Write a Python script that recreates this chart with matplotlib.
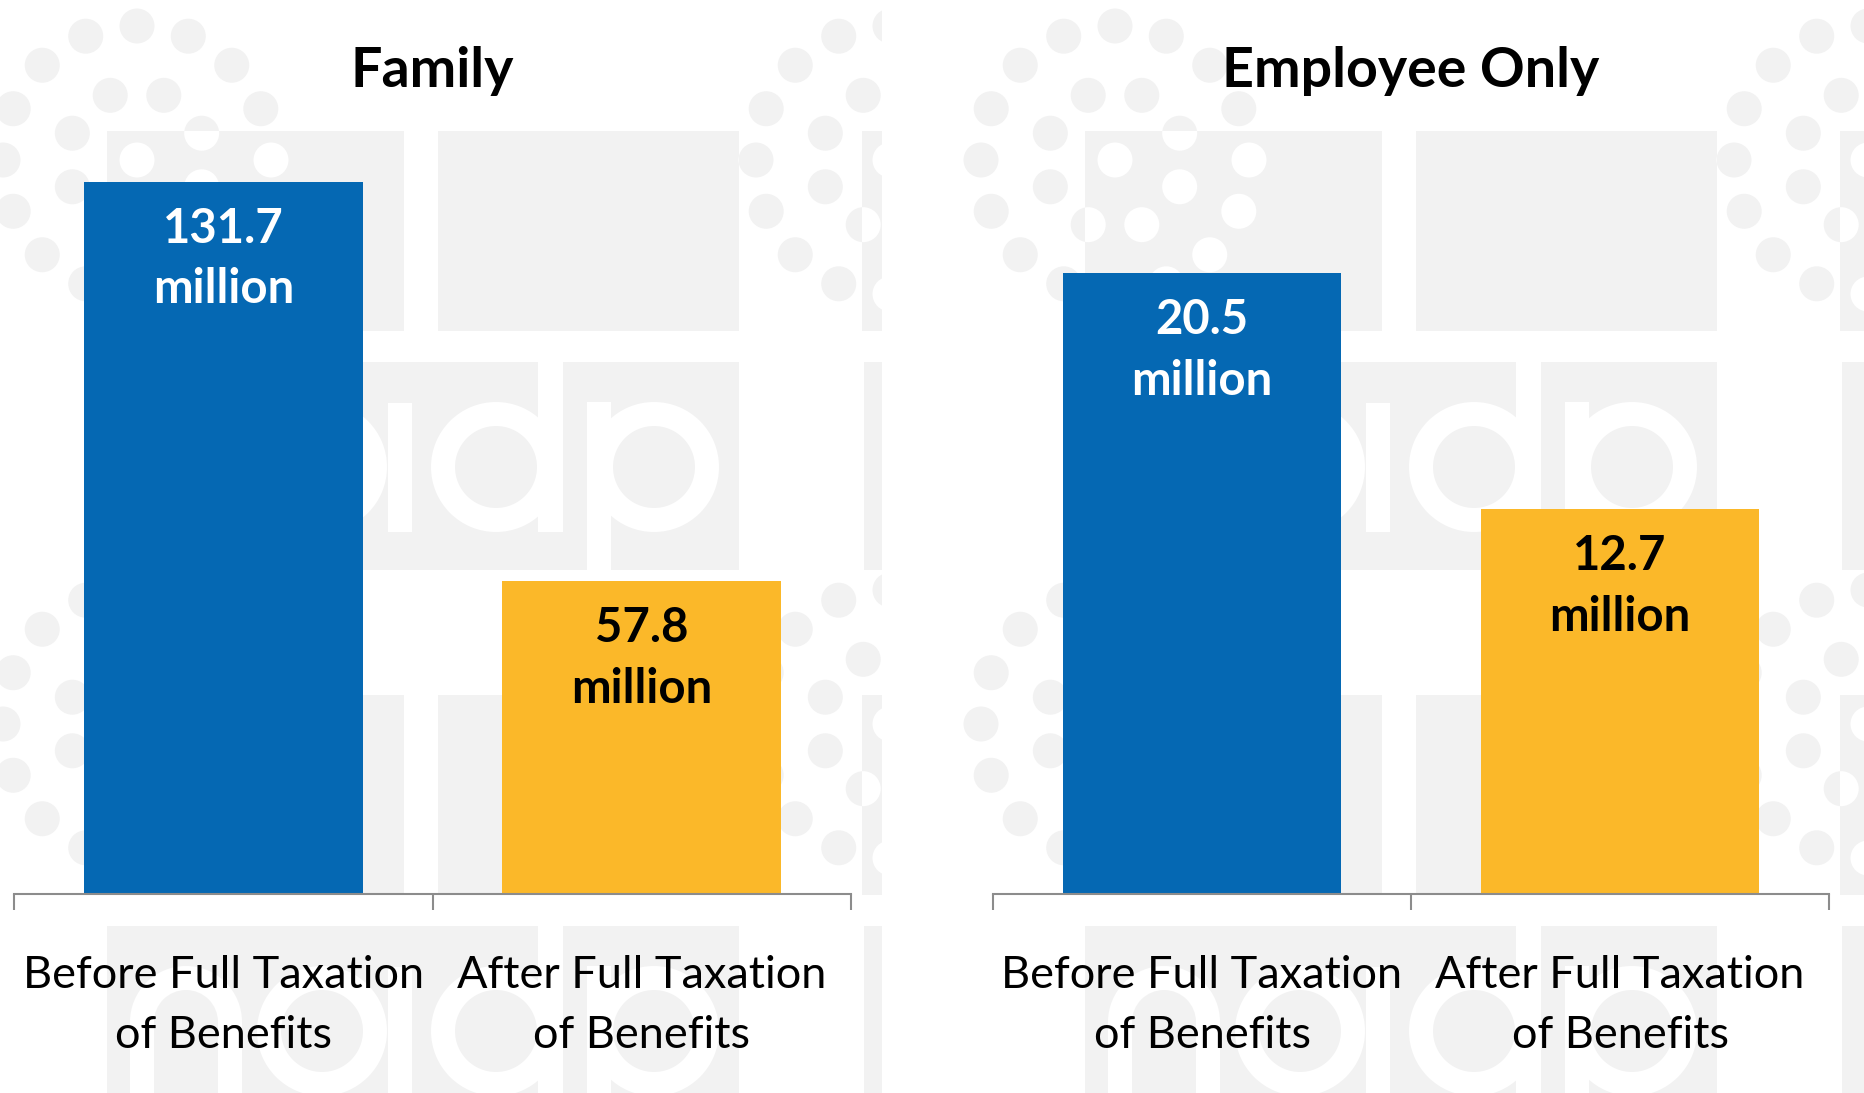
import numpy as np
import matplotlib.pyplot as plt
from matplotlib.patches import Rectangle, Circle, Wedge

plt.rcParams["font.family"] = ["Lato", "DejaVu Sans"]

W, H = 1864, 1093

panel_titles = ["Family", "Employee Only"]
categories = ["Before Full Taxation\nof Benefits", "After Full Taxation\nof Benefits"]
family_values = [131.7, 57.8]
employee_values = [20.5, 12.7]
panel_values = [family_values, employee_values]
y_max = [140, 25]

BLUE = "#0568b3"
GOLD = "#fbb829"
AXIS_GRAY = "#8c8c8c"
WM_GRAY = "#f2f2f2"


def px_rect(left, top, right, bottom):
    return [left / W, 1 - bottom / H, (right - left) / W, (bottom - top) / H]


fig = plt.figure(figsize=(W / 100, H / 100), dpi=100)

# faint logo watermark behind each panel, drawn in pixel space
bg = fig.add_axes([0, 0, 1, 1], zorder=0)
bg.set_xlim(0, W)
bg.set_ylim(H, 0)
bg.axis("off")


def draw_watermark(dx, x_end):
    panel_clip = Rectangle((dx - 20, 0), x_end - dx + 20, H, transform=bg.transData)
    blocks = []
    for dy in (0, 564):
        blocks += [(107, 131 + dy, 404, 331 + dy), (438, 131 + dy, 739, 331 + dy),
                   (862, 131 + dy, min(x_end - dx, 920), 331 + dy),
                   (107, 362 + dy, 739, 570 + dy),
                   (864, 362 + dy, min(x_end - dx, 920), 570 + dy)]
    dots = []
    for cy in (160, 724):
        for cx in (137, 890):
            dots.append((cx, cy))
            for k in range(16):
                a = np.radians(22.5 * k)
                dots.append((cx + 134 * np.cos(a), cy + 134 * np.sin(a)))
            for k in range(8):
                a = np.radians(22.5 + 45 * k)
                dots.append((cx + 70 * np.cos(a), cy + 70 * np.sin(a)))

    for x, y in dots:
        c = Circle((x + dx, y), 17.5, color=WM_GRAY, lw=0, zorder=1)
        bg.add_patch(c)
        c.set_clip_path(panel_clip)
    for l, t, r, b in blocks:
        block = Rectangle((l + dx, t), r - l, b - t, color=WM_GRAY, lw=0, zorder=2)
        bg.add_patch(block)
        for x, y in dots:
            c = Circle((x + dx, y), 17.5, color="white", lw=0, zorder=3)
            bg.add_patch(c)
            c.set_clip_path(block)

    # letters "nadp" cut out of the lower block rows
    for dy in (0, 564):
        shapes = [
            Rectangle((130 + dx, 458 + dy), 24, 74),
            Wedge((186 + dx, 458 + dy), 56, 180, 360, width=24),
            Rectangle((218 + dx, 458 + dy), 24, 74),
            Wedge((322 + dx, 467 + dy), 65, 0, 360, width=24),
            Rectangle((388 + dx, 403 + dy), 24, 129),
            Wedge((496 + dx, 467 + dy), 65, 0, 360, width=24),
            Rectangle((538 + dx, 362 + dy), 25, 170),
            Wedge((654 + dx, 467 + dy), 65, 0, 360, width=24),
            Rectangle((587 + dx, 402 + dy), 24, 168),
        ]
        for s in shapes:
            s.set_color("white")
            s.set_linewidth(0)
            s.set_zorder(4)
            bg.add_patch(s)


draw_watermark(0, 882)
draw_watermark(978, W)

axes_px = [(14, 851), (993, 1829)]
bar_colors = [BLUE, GOLD]
label_colors = ["white", "black"]
x = np.arange(len(categories))

for (left, right), title, values, top in zip(axes_px, panel_titles, panel_values, y_max):
    ax = fig.add_axes(px_rect(left, 137, right, 893.5), zorder=2)
    ax.patch.set_visible(False)
    ax.bar(x, values, width=0.667, color=bar_colors, zorder=2)
    ax.set_xlim(-0.5, 1.5)
    ax.set_ylim(0, top)

    for side in ("left", "right", "top"):
        ax.spines[side].set_visible(False)
    ax.spines["bottom"].set_color(AXIS_GRAY)
    ax.spines["bottom"].set_linewidth(1.5)
    ax.yaxis.set_visible(False)
    ax.set_xticks([-0.5, 0.5, 1.5])
    ax.set_xticklabels([])
    ax.tick_params(axis="x", direction="out", length=11.5, width=1.5, color=AXIS_GRAY)

    # value labels inside the top of each bar
    for i, v in enumerate(values):
        ax.annotate(f"{v}", xy=(i, v), xytext=(0, -44), textcoords="offset points",
                    ha="center", va="baseline", fontsize=34, fontweight="bold",
                    color=label_colors[i])
        ax.annotate("million", xy=(i, v), xytext=(0, -87.5), textcoords="offset points",
                    ha="center", va="baseline", fontsize=34, fontweight="bold",
                    color=label_colors[i])

    # two-line category names under the axis
    for i, cat in enumerate(categories):
        first, second = cat.split("\n")
        ax.annotate(first, xy=(i, 0), xytext=(0, -68), textcoords="offset points",
                    ha="center", va="baseline", fontsize=32.5, color="black",
                    annotation_clip=False)
        ax.annotate(second, xy=(i, 0), xytext=(0, -111.2), textcoords="offset points",
                    ha="center", va="baseline", fontsize=32.5, color="black",
                    annotation_clip=False)

    ax.annotate(title, xy=(0.5, 1), xycoords="axes fraction", xytext=(0, 36),
                textcoords="offset points", ha="center", va="baseline",
                fontsize=40, fontweight="bold", color="black")

fig.savefig("out.png", dpi=100)
